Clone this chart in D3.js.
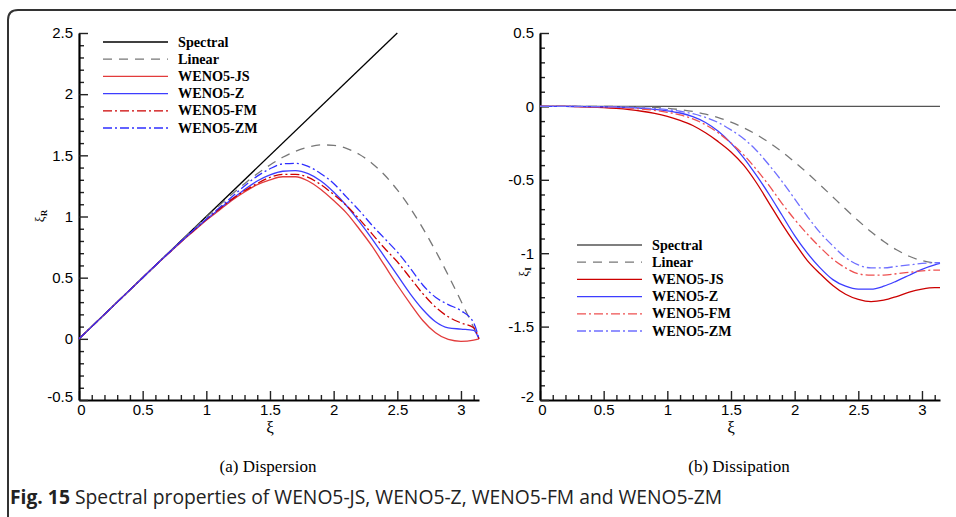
<!DOCTYPE html>
<html lang="en">
<head>
<meta charset="utf-8">
<script src="https://d3js.org/d3.v7.min.js"></script>
<title>Spectral properties</title>
<style>
  body { margin: 0; background: #fff; }
  svg { display: block; }
</style>
</head>
<body>
<div id="container"></div>
<script>
// wavenumber grid (xi), shared by all curves
var xi = [0, 0.1, 0.2, 0.3, 0.4, 0.5, 0.6, 0.7, 0.8, 0.9, 1.0, 1.1, 1.2, 1.3, 1.4, 1.5, 1.6,
          1.7, 1.8, 1.9, 2.0, 2.1, 2.2, 2.3, 2.4, 2.5, 2.6, 2.7, 2.8, 2.9, 3.0, 3.1, 3.1416];

// (a) dispersion, real part
var spectralXi = [0, 2.5];
var spectralR = [0, 2.5];
var linearR = [0, 0.1, 0.2, 0.3, 0.4, 0.5, 0.6, 0.699, 0.799, 0.897, 0.994, 1.089, 1.181, 1.268, 1.349, 1.421, 1.484,
               1.533, 1.568, 1.585, 1.582, 1.557, 1.509, 1.436, 1.339, 1.217, 1.072, 0.905, 0.72, 0.52, 0.309, 0.092, 0];
var jsR = [0, 0.1, 0.2, 0.3, 0.4, 0.5, 0.6, 0.695, 0.79, 0.88, 0.97, 1.05, 1.13, 1.2, 1.26, 1.3, 1.325,
           1.325, 1.29, 1.22, 1.13, 1.03, 0.9, 0.76, 0.6, 0.44, 0.29, 0.15, 0.05, -0.005, -0.02, -0.01, 0];
var zR = [0, 0.1, 0.2, 0.3, 0.4, 0.5, 0.6, 0.697, 0.793, 0.885, 0.975, 1.06, 1.14, 1.22, 1.29, 1.34, 1.37,
          1.375, 1.35, 1.29, 1.2, 1.09, 0.96, 0.82, 0.67, 0.52, 0.37, 0.24, 0.14, 0.09, 0.08, 0.07, 0];
var fmR = [0, 0.1, 0.2, 0.3, 0.4, 0.5, 0.6, 0.697, 0.793, 0.885, 0.975, 1.06, 1.14, 1.21, 1.27, 1.32, 1.345,
           1.345, 1.32, 1.26, 1.18, 1.09, 0.98, 0.86, 0.74, 0.63, 0.5, 0.37, 0.26, 0.18, 0.13, 0.09, 0];
var zmR = [0, 0.1, 0.2, 0.3, 0.4, 0.5, 0.6, 0.698, 0.795, 0.89, 0.98, 1.07, 1.16, 1.25, 1.33, 1.39, 1.43,
           1.435, 1.41, 1.35, 1.27, 1.16, 1.05, 0.93, 0.82, 0.71, 0.58, 0.44, 0.34, 0.28, 0.23, 0.13, 0];

// (b) dissipation, imaginary part
var spectralI = xi.map(function() { return 0; });
var linearI = [0, 0, 0, 0, -0.0001, -0.0002, -0.0007, -0.0017, -0.0037, -0.0072, -0.013, -0.0218, -0.0346, -0.0524, -0.0762, -0.107, -0.1454,
               -0.1918, -0.2464, -0.309, -0.3786, -0.4543, -0.5344, -0.6169, -0.6993, -0.779, -0.8537, -0.9205, -0.9768, -1.0209, -1.0507, -1.0652, -1.0667];
var jsI = [0, 0, -0.0005, -0.002, -0.004, -0.008, -0.014, -0.022, -0.033, -0.048, -0.068, -0.095, -0.13, -0.18, -0.24, -0.31, -0.4,
           -0.52, -0.66, -0.8, -0.93, -1.05, -1.14, -1.22, -1.28, -1.315, -1.33, -1.32, -1.295, -1.265, -1.245, -1.235, -1.235];
var zI = [0, 0, 0, -0.001, -0.002, -0.003, -0.005, -0.008, -0.013, -0.02, -0.03, -0.045, -0.07, -0.11, -0.17, -0.25, -0.35,
          -0.47, -0.6, -0.74, -0.88, -1.0, -1.1, -1.18, -1.225, -1.245, -1.245, -1.225, -1.19, -1.15, -1.11, -1.08, -1.07];
var fmI = [0, 0, 0, -0.001, -0.002, -0.004, -0.007, -0.011, -0.018, -0.027, -0.04, -0.058, -0.085, -0.125, -0.18, -0.25, -0.33,
           -0.43, -0.54, -0.66, -0.77, -0.87, -0.96, -1.04, -1.1, -1.14, -1.15, -1.15, -1.14, -1.13, -1.12, -1.115, -1.115];
var zmI = [0, 0, 0, 0, -0.001, -0.002, -0.004, -0.006, -0.01, -0.015, -0.022, -0.033, -0.05, -0.075, -0.11, -0.16, -0.22,
           -0.3, -0.4, -0.51, -0.63, -0.75, -0.86, -0.95, -1.03, -1.08, -1.1, -1.1, -1.09, -1.08, -1.07, -1.065, -1.065];

var seriesNames = ["Spectral", "Linear", "WENO5-JS", "WENO5-Z", "WENO5-FM", "WENO5-ZM"];
var leftTicksY = [-0.5, 0, 0.5, 1, 1.5, 2, 2.5];
var rightTicksY = [-2, -1.5, -1, -0.5, 0, 0.5];
var ticksX = [0, 0.5, 1, 1.5, 2, 2.5, 3];

var W = 956, H = 517;
var svg = d3.select("#container").append("svg")
    .attr("width", W).attr("height", H);

// figure frame with rounded top-left corner
svg.append("path")
    .attr("d", "M8," + H + " L8,20 Q8,10 18,10 L" + W + ",10")
    .attr("fill", "none")
    .attr("stroke", "#333")
    .attr("stroke-width", 2);

var dashDot = "9,3,2,3";
var fmt = function(d) { return String(d); };

function panel(opt) {
    var x = d3.scaleLinear().domain([0, Math.PI]).range([opt.x0, opt.x0 + 400]);
    var y = d3.scaleLinear().domain(opt.yDomain).range([400, 33]);
    var g = svg.append("g");

    var minorX = d3.range(0, 3.15, 0.1).filter(function(v) { return Math.abs(v * 2 - Math.round(v * 2)) > 1e-6; });
    var minorY = d3.range(opt.yDomain[0], opt.yDomain[1] + 0.01, 0.1).filter(function(v) { return Math.abs(v * 2 - Math.round(v * 2)) > 1e-6; });

    g.append("g").attr("transform", "translate(0,400)")
        .call(d3.axisBottom(x).tickValues(minorX).tickSize(-5).tickFormat(""))
        .call(function(a) { a.select(".domain").remove(); });
    g.append("g").attr("transform", "translate(" + opt.x0 + ",0)")
        .call(d3.axisLeft(y).tickValues(minorY).tickSize(-5).tickFormat(""))
        .call(function(a) { a.select(".domain").remove(); });

    var ax = g.append("g").attr("transform", "translate(0,400)")
        .call(d3.axisBottom(x).tickValues(ticksX).tickSize(-9).tickPadding(4).tickSizeOuter(0).tickFormat(fmt));
    var ay = g.append("g").attr("transform", "translate(" + opt.x0 + ",0)")
        .call(d3.axisLeft(y).tickValues(opt.yTicks).tickSize(-9).tickPadding(6).tickSizeOuter(0).tickFormat(fmt));
    [ax, ay].forEach(function(a) {
        a.attr("font-family", null);
        a.select(".domain").attr("stroke-width", 2.2).attr("stroke", "#000");
        a.selectAll("text").style("font-family", "'Liberation Sans', Arial, sans-serif")
            .attr("font-size", 15).attr("fill", "#000");
    });
    // shift the bottom-left labels apart like the original
    ax.selectAll(".tick").filter(function(d) { return d === 0; }).select("text").attr("dx", 2);
    ay.selectAll(".tick").filter(function(d) { return d === opt.yDomain[0]; }).select("text").attr("dy", "0.1em");
    g.selectAll(".tick line").attr("stroke", "#222").attr("stroke-width", 1.4);

    // axis titles
    g.append("text").attr("x", x(1.5)).attr("y", 433)
        .attr("text-anchor", "middle").style("font-family", "'Liberation Serif', serif")
        .attr("font-size", 17).text("ξ");
    var yl = g.append("text")
        .attr("transform", "translate(" + opt.ylx + "," + opt.yly + ") rotate(-90)")
        .attr("text-anchor", "middle").style("font-family", "'Liberation Serif', serif")
        .attr("font-size", 13);
    yl.append("tspan").text("ξ");
    yl.append("tspan").attr("font-size", 9).attr("font-weight", "bold").attr("dy", 3).text(opt.sub);

    var line = d3.line()
        .x(function(d) { return x(d[0]); })
        .y(function(d) { return y(d[1]); })
        .curve(d3.curveMonotoneX);

    opt.series.forEach(function(s) {
        g.append("path")
            .datum(s.xs.map(function(v, i) { return [v, s.ys[i]]; }))
            .attr("d", line)
            .attr("fill", "none")
            .attr("stroke", s.color)
            .attr("stroke-width", 1.3)
            .attr("stroke-dasharray", s.dash || null);
    });

    // legend
    var lg = g.append("g");
    opt.series.forEach(function(s, i) {
        var yy = opt.ly + i * 17.2;
        lg.append("line").attr("x1", opt.lx).attr("x2", opt.lx + 65)
            .attr("y1", yy).attr("y2", yy)
            .attr("stroke", s.color).attr("stroke-width", 1.3)
            .attr("stroke-dasharray", s.dash || null);
        lg.append("text").attr("x", opt.lx + 75).attr("y", yy + 4.5)
            .style("font-family", "'Liberation Serif', serif").attr("font-weight", "bold")
            .attr("font-size", 14.2).text(seriesNames[i]);
    });

    svg.append("text").attr("x", opt.capx).attr("y", 472)
        .attr("text-anchor", "middle").style("font-family", "'Liberation Serif', serif")
        .attr("font-size", 17).text(opt.caption);
}

panel({
    x0: 79, yDomain: [-0.5, 2.5], yTicks: leftTicksY, sub: "R", ylx: 44, yly: 216,
    lx: 103, ly: 42, capx: 268, caption: "(a) Dispersion",
    series: [
        { xs: spectralXi, ys: spectralR, color: "#000" },
        { xs: xi, ys: linearR, color: "#777", dash: "9,7" },
        { xs: xi, ys: jsR, color: "#e23b3b" },
        { xs: xi, ys: zR, color: "#3d3dff" },
        { xs: xi, ys: fmR, color: "#cc0000", dash: dashDot },
        { xs: xi, ys: zmR, color: "#2f2fff", dash: dashDot }
    ]
});

panel({
    x0: 540, yDomain: [-2, 0.5], yTicks: rightTicksY, sub: "I", ylx: 528, yly: 272,
    lx: 577, ly: 245, capx: 739, caption: "(b) Dissipation",
    series: [
        { xs: xi, ys: spectralI, color: "#555" },
        { xs: xi, ys: linearI, color: "#777", dash: "9,7" },
        { xs: xi, ys: jsI, color: "#cc0000" },
        { xs: xi, ys: zI, color: "#3d3dff" },
        { xs: xi, ys: fmI, color: "#ee5050", dash: dashDot },
        { xs: xi, ys: zmI, color: "#6f6fff", dash: dashDot }
    ]
});

// figure caption
var cap = svg.append("text").attr("x", 10).attr("y", 504)
    .style("font-family", "'Open Sans', 'Noto Sans', sans-serif").attr("font-size", 19.3).attr("fill", "#222");
cap.append("tspan").attr("font-weight", "bold").text("Fig. 15");
cap.append("tspan").text(" Spectral properties of WENO5-JS, WENO5-Z, WENO5-FM and WENO5-ZM");
</script>
</body>
</html>
